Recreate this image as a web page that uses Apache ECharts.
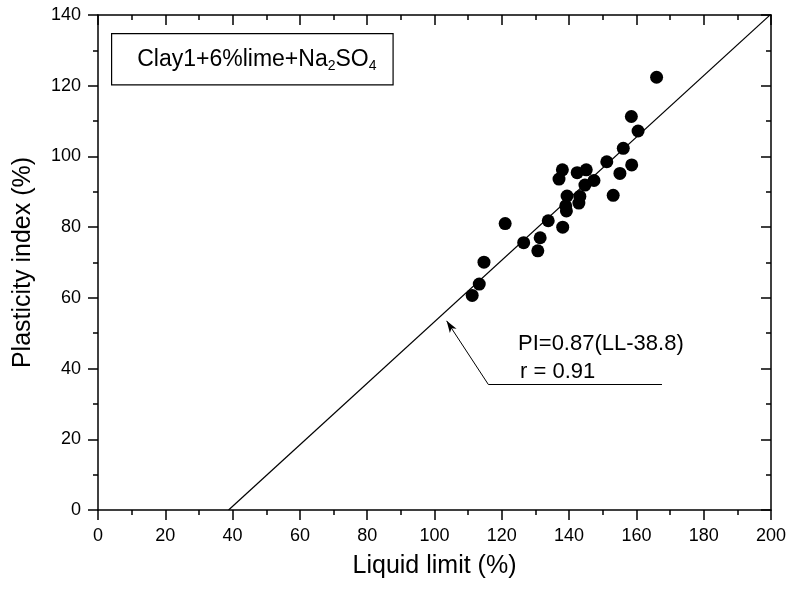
<!DOCTYPE html>
<html>
<head>
<meta charset="utf-8">
<script src="https://cdn.jsdelivr.net/npm/echarts@6/dist/echarts.min.js"></script>
<style>
  html, body { margin: 0; padding: 0; background: #fff; }
  #main { width: 790px; height: 591px; }
</style>
</head>
<body>
<div id="main"></div>
<script>
// measured points: liquid limit (%) and plasticity index (%)
var liquidLimit = [166.0, 158.5, 160.5, 156.1, 151.2, 158.6, 155.1, 153.1, 138.0, 137.0,
                   142.4, 145.1, 147.4, 144.7, 139.4, 143.2, 142.9, 139.0, 139.2, 133.8,
                   138.1, 121.0, 126.5, 131.4, 130.7, 114.7, 113.3, 111.2];
var plasticityIndex = [122.4, 111.3, 107.2, 102.3, 98.5, 97.6, 95.2, 89.0, 96.2, 93.6,
                       95.4, 96.2, 93.2, 91.9, 88.8, 88.7, 86.8, 86.0, 84.6, 81.8,
                       80.0, 81.0, 75.6, 77.0, 73.3, 70.1, 63.9, 60.7];
// fit PI = 0.87 (LL - 38.8)
var slope = 0.87, llZero = 38.8;
var fitLL = [llZero, 200];
// annotation pointer (data coords)
var pointerTail = [116, 35.5], pointerTip = [103.6, 53.5], underlineEnd = [167.6, 35.5];

var points = liquidLimit.map(function (x, i) { return [x, plasticityIndex[i]]; });
var fitLine = fitLL.map(function (x) { return [x, slope * (x - llZero)]; });

var font = 'Liberation Sans, Arial, sans-serif';
var black = '#000';
var tickStyle = { color: black, width: 1.5 };

function axisBase(extra) {
  return Object.assign({
    type: 'value',
    axisLine: { show: true, onZero: false, lineStyle: tickStyle },
    splitLine: { show: false },
    minorTick: { show: true, splitNumber: 2, length: 5, lineStyle: tickStyle },
    axisTick: { show: true, inside: false, length: 10, lineStyle: tickStyle },
    axisLabel: { color: black, fontSize: 18, fontFamily: font, margin: 17 }
  }, extra);
}
// mirror axes (top / right): ticks pointing in, no labels
function mirrorAxis(extra) {
  return axisBase(Object.assign({
    axisTick: { show: true, inside: true, length: 10, lineStyle: tickStyle },
    axisLabel: { show: false }
  }, extra));
}

var myChart = echarts.init(document.getElementById('main'));
var option = {
  animation: false,
  grid: { left: 98, right: 19, top: 15, bottom: 81 },
  xAxis: [
    axisBase({ min: 0, max: 200, interval: 20, position: 'bottom',
      name: 'Liquid limit (%)', nameLocation: 'middle', nameGap: 44,
      nameTextStyle: { color: black, fontSize: 25, fontFamily: font } }),
    mirrorAxis({ min: 0, max: 200, interval: 20, position: 'top' })
  ],
  yAxis: [
    axisBase({ min: 0, max: 140, interval: 20, position: 'left',
      name: 'Plasticity index (%)', nameLocation: 'middle', nameGap: 62,
      nameTextStyle: { color: black, fontSize: 25, fontFamily: font } }),
    mirrorAxis({ min: 0, max: 140, interval: 20, position: 'right' })
  ],
  series: [
    {
      type: 'line',
      data: fitLine,
      symbol: 'none',
      lineStyle: { color: black, width: 1.2 },
      markLine: {
        silent: true,
        symbol: ['none', 'arrow'],
        symbolSize: [6, 12],
        label: { show: false },
        lineStyle: { color: black, width: 1, type: 'solid' },
        data: [
          [{ coord: pointerTail }, { coord: pointerTip }],
          [{ coord: pointerTail, symbol: 'none' }, { coord: underlineEnd, symbol: 'none' }]
        ]
      }
    },
    {
      type: 'scatter',
      data: points,
      symbol: 'circle',
      symbolSize: 13,
      itemStyle: { color: black, opacity: 1 }
    }
  ],
  graphic: [
    { type: 'text', left: 111, top: 33,
      style: {
        text: '{a|Clay1+6%lime+Na}{s|2}{a|SO}{s|4}',
        borderColor: black, borderWidth: 1.2, backgroundColor: '#fff',
        padding: [11, 16, 11, 25],
        rich: {
          a: { fontSize: 23, fontFamily: font, fill: black, lineHeight: 28 },
          s: { fontSize: 14, fontFamily: font, fill: black, lineHeight: 28, padding: [14, 0, 0, 0] }
        }
      } },
    { type: 'text', left: 518, top: 333,
      style: { text: 'PI=0.87(LL-38.8)', fontSize: 22, fontFamily: font, fill: black } },
    { type: 'text', left: 520, top: 361,
      style: { text: 'r = 0.91', fontSize: 22, fontFamily: font, fill: black } }
  ]
};
myChart.setOption(option);
</script>
</body>
</html>
